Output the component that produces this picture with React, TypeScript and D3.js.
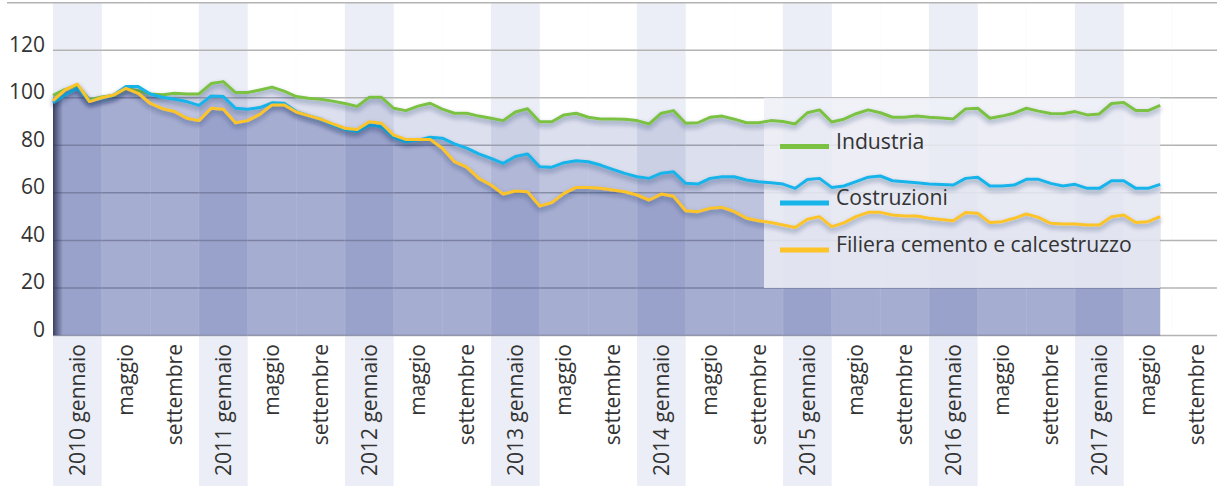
import React from "react";
import * as d3 from "d3";

// monthly index, Jan 2010 .. Aug 2017
const industria = [
  101, 103.5, 105.2, 99.2, 100.3, 101, 103.8, 103, 101.6, 101.3, 101.9, 101.6,
  101.6, 106, 106.8, 102.2, 102.2, 103.3, 104.5, 102.8, 100.5, 99.8, 99.4, 98.6,
  97.6, 96.4, 100.2, 100.2, 95.6, 94.6, 96.5, 97.7, 95.2, 93.5, 93.5, 92.3,
  91.4, 90.4, 94, 95.4, 89.9, 89.9, 92.8, 93.5, 91.8, 91.1, 91.1, 91,
  90.4, 89, 93.5, 94.6, 89.3, 89.5, 91.8, 92.3, 91, 89.5, 89.5, 90.4,
  90, 89, 93.7, 94.9, 89.8, 91, 93.3, 94.9, 93.7, 91.8, 91.8, 92.3,
  91.8, 91.5, 91.1, 95.3, 95.6, 91.4, 92.3, 93.5, 95.6, 94.4, 93.4, 93.3,
  94.2, 92.8, 93.2, 97.6, 98, 94.6, 94.6, 96.8,
];

const costruzioni = [
  97.9, 101.2, 104, 98.7, 99.8, 101.2, 104.7, 104.7, 101.6, 100.2, 99.4, 98.4,
  96.8, 100.8, 100.5, 95.6, 95.2, 95.9, 97.9, 97.7, 94.2, 92.5, 91, 88.5,
  86.7, 85.8, 88.6, 87.8, 83.4, 81.5, 82.2, 83.4, 83, 80.6, 78.8, 76.4,
  74.5, 72.4, 75.3, 76.4, 71, 70.8, 72.7, 73.5, 73.1, 71.7, 69.9, 68.2,
  66.8, 66.1, 68.3, 68.9, 64, 63.7, 66.1, 66.8, 66.8, 65.4, 64.7, 64.3,
  63.7, 61.9, 65.6, 66.1, 62.3, 62.9, 64.7, 66.6, 67.1, 65.1, 64.7, 64.3,
  63.7, 63.5, 63.3, 66.1, 66.6, 62.9, 62.9, 63.3, 65.7, 65.7, 64, 62.9,
  63.6, 61.9, 61.9, 65.1, 65.1, 61.9, 61.9, 63.6,
];

const filiera = [
  98.8, 103.3, 105.8, 98.4, 100, 101.2, 104, 101.9, 97.6, 95.4, 94.2, 91.4,
  90.4, 95.6, 95.2, 89.5, 90.4, 93, 97, 97, 94, 92.5, 91, 89,
  87.2, 86.7, 89.9, 89.3, 84.3, 82.5, 82.5, 82.5, 78.8, 73.1, 70.8, 66.1,
  63.3, 59.5, 60.8, 60.5, 54.5, 55.9, 59.8, 62.3, 62.3, 61.9, 61.2, 60.5,
  59.1, 57, 59.5, 58.6, 52.5, 52.1, 53.5, 53.9, 52.1, 49.3, 48.3, 47.5,
  46.5, 45.4, 48.9, 50, 45.8, 47.4, 50, 51.8, 51.8, 50.7, 50.3, 50.3,
  49.3, 48.8, 48.3, 51.7, 51.4, 47.5, 47.9, 49.3, 51.1, 49.7, 47.2, 46.9,
  46.9, 46.5, 46.5, 50, 50.7, 47.5, 47.9, 50,
];

const tickLabels = [
  "2010 gennaio", "maggio", "settembre",
  "2011 gennaio", "maggio", "settembre",
  "2012 gennaio", "maggio", "settembre",
  "2013 gennaio", "maggio", "settembre",
  "2014 gennaio", "maggio", "settembre",
  "2015 gennaio", "maggio", "settembre",
  "2016 gennaio", "maggio", "settembre",
  "2017 gennaio", "maggio", "settembre",
];

const yTicks = [0, 20, 40, 60, 80, 100, 120];
const seriesNames = ["Industria", "Costruzioni", "Filiera cemento e calcestruzzo"];
const seriesColors = ["#7cc242", "#17b4ea", "#fdc42a"];

const width = 1217;
const height = 486;
const left = 53;
const step = 12.167; // one month
const FONT = "'Open Sans', sans-serif";

export default function App() {
  const x = d3.scaleLinear().domain([0, 96]).range([left, left + 96 * step]);
  const y = d3.scaleLinear().domain([0, 140]).range([335.5, 2.7]);

  const series = [industria, costruzioni, filiera];

  const area = d3
    .area<number>()
    .x((d, i) => x(i))
    .y0(y(0))
    .y1((d) => y(d));
  const line = d3
    .line<number>()
    .x((d, i) => x(i))
    .y((d) => y(d));

  const lastX = x(filiera.length - 1);

  return (
    <svg
      width={width}
      height={height}
      style={{ position: "absolute", left: 0, top: 0, fontFamily: FONT }}
    >
      <defs>
        <filter id="shadow" x="-5%" y="-20%" width="110%" height="160%">
          <feDropShadow dx="0" dy="3" stdDeviation="2.4" floodColor="#1b2656" floodOpacity="0.42" />
        </filter>
        <linearGradient id="edge" x1="0" x2="1" y1="0" y2="0">
          <stop offset="0" stopColor="#1c2140" stopOpacity="0.75" />
          <stop offset="1" stopColor="#1c2140" stopOpacity="0" />
        </linearGradient>
        <clipPath id="lowClip">
          <path d={area(filiera) || ""} />
        </clipPath>
      </defs>

      {/* year bands */}
      {tickLabels.map((t, k) =>
        k % 3 === 0 ? (
          <rect key={"b" + k} x={x(4 * k)} y={3} width={x(4 * k + 4) - x(4 * k)} height={height - 3} fill="#ebeef6" />
        ) : null
      )}

      {/* grid */}
      {[...yTicks, 140].map((v) => (
        <line
          key={"g" + v}
          x1={v === 140 ? 7 : left}
          x2={width}
          y1={y(v)}
          y2={y(v)}
          stroke="#b3b3b3"
          strokeWidth={1.5}
        />
      ))}

      {/* areas */}
      {series.map((s, i) => (
        <path key={"a" + i} d={area(s) || ""} fill="#24378c" fillOpacity={0.16} />
      ))}
      <rect x={left} y={0} width={10} height={y(0)} fill="url(#edge)" clipPath="url(#lowClip)" />

      {/* faint cell separators */}
      {d3.range(1, 25).map((k) => (
        <line key={"v" + k} x1={x(4 * k)} x2={x(4 * k)} y1={3} y2={y(0)} stroke="#e6e8f0" strokeOpacity={0.14} />
      ))}

      {/* legend box */}
      <rect x={764} y={y(100)} width={lastX - 764} height={y(20) - y(100)} fill="#eef0f7" fillOpacity={0.84} />

      {/* lines */}
      {series.map((s, i) => (
        <path
          key={"l" + i}
          d={line(s) || ""}
          fill="none"
          stroke={seriesColors[i]}
          strokeWidth={3}
          strokeLinejoin="round"
          filter="url(#shadow)"
        />
      ))}

      {/* legend entries */}
      {seriesNames.map((n, i) => {
        const base = [148.5, 205, 252][i];
        return (
          <g key={"lg" + i}>
            <line x1={780} x2={829} y1={base - 2} y2={base - 2} stroke={seriesColors[i]} strokeWidth={5} />
            <text x={836} y={base} fontSize={21.2} fill="#333">
              {n}
            </text>
          </g>
        );
      })}

      {/* y axis labels */}
      {yTicks.map((v) => (
        <text key={"y" + v} x={45} y={y(v) + 1.5} textAnchor="end" fontSize={21} fill="#333">
          {v}
        </text>
      ))}

      {/* x axis labels */}
      {tickLabels.map((t, k) => (
        <text
          key={"x" + k}
          transform={`translate(${x(4 * k + 2)},344) rotate(-90)`}
          textAnchor="end"
          dy="0.35em"
          fontSize={21}
          fill="#333"
        >
          {t}
        </text>
      ))}
    </svg>
  );
}
